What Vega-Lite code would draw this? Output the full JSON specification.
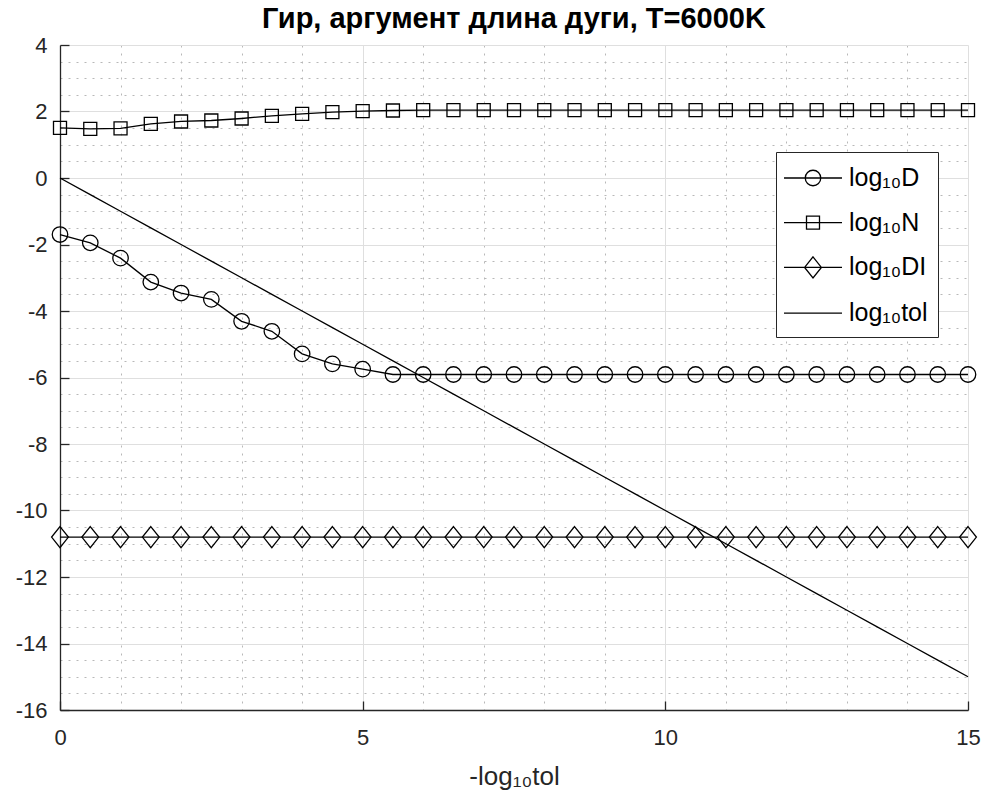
{
  "$schema": "https://vega.github.io/schema/vega-lite/v6.json",
  "width": 908,
  "height": 665,
  "autosize": {"type": "none"},
  "padding": {"left": 60, "top": 45, "right": 21, "bottom": 97},
  "background": "white",
  "title": {"text": "Гир, аргумент длина дуги, T=6000K", "fontSize": 29, "fontWeight": "bold", "font": "Liberation Sans", "color": "black", "anchor": "middle", "offset": 0},
  "config": {"view": {"stroke": null}, "font": "Liberation Sans"},
  "datasets": {
    "main": [
      {"x": 0, "series": "log₁₀D", "y": -1.70}, {"x": 0.5, "series": "log₁₀D", "y": -1.95}, {"x": 1, "series": "log₁₀D", "y": -2.41}, {"x": 1.5, "series": "log₁₀D", "y": -3.13}, {"x": 2, "series": "log₁₀D", "y": -3.46}, {"x": 2.5, "series": "log₁₀D", "y": -3.65}, {"x": 3, "series": "log₁₀D", "y": -4.31}, {"x": 3.5, "series": "log₁₀D", "y": -4.61}, {"x": 4, "series": "log₁₀D", "y": -5.29}, {"x": 4.5, "series": "log₁₀D", "y": -5.59}, {"x": 5, "series": "log₁₀D", "y": -5.75}, {"x": 5.5, "series": "log₁₀D", "y": -5.91}, {"x": 6, "series": "log₁₀D", "y": -5.91}, {"x": 6.5, "series": "log₁₀D", "y": -5.91}, {"x": 7, "series": "log₁₀D", "y": -5.91}, {"x": 7.5, "series": "log₁₀D", "y": -5.91}, {"x": 8, "series": "log₁₀D", "y": -5.91}, {"x": 8.5, "series": "log₁₀D", "y": -5.91}, {"x": 9, "series": "log₁₀D", "y": -5.91}, {"x": 9.5, "series": "log₁₀D", "y": -5.91}, {"x": 10, "series": "log₁₀D", "y": -5.91}, {"x": 10.5, "series": "log₁₀D", "y": -5.91}, {"x": 11, "series": "log₁₀D", "y": -5.91}, {"x": 11.5, "series": "log₁₀D", "y": -5.91}, {"x": 12, "series": "log₁₀D", "y": -5.91}, {"x": 12.5, "series": "log₁₀D", "y": -5.91}, {"x": 13, "series": "log₁₀D", "y": -5.91}, {"x": 13.5, "series": "log₁₀D", "y": -5.91}, {"x": 14, "series": "log₁₀D", "y": -5.91}, {"x": 14.5, "series": "log₁₀D", "y": -5.91}, {"x": 15, "series": "log₁₀D", "y": -5.91},
      {"x": 0, "series": "log₁₀N", "y": 1.51}, {"x": 0.5, "series": "log₁₀N", "y": 1.48}, {"x": 1, "series": "log₁₀N", "y": 1.49}, {"x": 1.5, "series": "log₁₀N", "y": 1.63}, {"x": 2, "series": "log₁₀N", "y": 1.70}, {"x": 2.5, "series": "log₁₀N", "y": 1.73}, {"x": 3, "series": "log₁₀N", "y": 1.79}, {"x": 3.5, "series": "log₁₀N", "y": 1.87}, {"x": 4, "series": "log₁₀N", "y": 1.93}, {"x": 4.5, "series": "log₁₀N", "y": 1.98}, {"x": 5, "series": "log₁₀N", "y": 2.01}, {"x": 5.5, "series": "log₁₀N", "y": 2.03}, {"x": 6, "series": "log₁₀N", "y": 2.04}, {"x": 6.5, "series": "log₁₀N", "y": 2.04}, {"x": 7, "series": "log₁₀N", "y": 2.04}, {"x": 7.5, "series": "log₁₀N", "y": 2.04}, {"x": 8, "series": "log₁₀N", "y": 2.04}, {"x": 8.5, "series": "log₁₀N", "y": 2.04}, {"x": 9, "series": "log₁₀N", "y": 2.04}, {"x": 9.5, "series": "log₁₀N", "y": 2.04}, {"x": 10, "series": "log₁₀N", "y": 2.04}, {"x": 10.5, "series": "log₁₀N", "y": 2.04}, {"x": 11, "series": "log₁₀N", "y": 2.04}, {"x": 11.5, "series": "log₁₀N", "y": 2.04}, {"x": 12, "series": "log₁₀N", "y": 2.04}, {"x": 12.5, "series": "log₁₀N", "y": 2.04}, {"x": 13, "series": "log₁₀N", "y": 2.04}, {"x": 13.5, "series": "log₁₀N", "y": 2.04}, {"x": 14, "series": "log₁₀N", "y": 2.04}, {"x": 14.5, "series": "log₁₀N", "y": 2.04}, {"x": 15, "series": "log₁₀N", "y": 2.04},
      {"x": 0, "series": "log₁₀DI", "y": -10.8}, {"x": 0.5, "series": "log₁₀DI", "y": -10.8}, {"x": 1, "series": "log₁₀DI", "y": -10.8}, {"x": 1.5, "series": "log₁₀DI", "y": -10.8}, {"x": 2, "series": "log₁₀DI", "y": -10.8}, {"x": 2.5, "series": "log₁₀DI", "y": -10.8}, {"x": 3, "series": "log₁₀DI", "y": -10.8}, {"x": 3.5, "series": "log₁₀DI", "y": -10.8}, {"x": 4, "series": "log₁₀DI", "y": -10.8}, {"x": 4.5, "series": "log₁₀DI", "y": -10.8}, {"x": 5, "series": "log₁₀DI", "y": -10.8}, {"x": 5.5, "series": "log₁₀DI", "y": -10.8}, {"x": 6, "series": "log₁₀DI", "y": -10.8}, {"x": 6.5, "series": "log₁₀DI", "y": -10.8}, {"x": 7, "series": "log₁₀DI", "y": -10.8}, {"x": 7.5, "series": "log₁₀DI", "y": -10.8}, {"x": 8, "series": "log₁₀DI", "y": -10.8}, {"x": 8.5, "series": "log₁₀DI", "y": -10.8}, {"x": 9, "series": "log₁₀DI", "y": -10.8}, {"x": 9.5, "series": "log₁₀DI", "y": -10.8}, {"x": 10, "series": "log₁₀DI", "y": -10.8}, {"x": 10.5, "series": "log₁₀DI", "y": -10.8}, {"x": 11, "series": "log₁₀DI", "y": -10.8}, {"x": 11.5, "series": "log₁₀DI", "y": -10.8}, {"x": 12, "series": "log₁₀DI", "y": -10.8}, {"x": 12.5, "series": "log₁₀DI", "y": -10.8}, {"x": 13, "series": "log₁₀DI", "y": -10.8}, {"x": 13.5, "series": "log₁₀DI", "y": -10.8}, {"x": 14, "series": "log₁₀DI", "y": -10.8}, {"x": 14.5, "series": "log₁₀DI", "y": -10.8}, {"x": 15, "series": "log₁₀DI", "y": -10.8},
      {"x": 0, "series": "log₁₀tol", "y": 0}, {"x": 0.5, "series": "log₁₀tol", "y": -0.5}, {"x": 1, "series": "log₁₀tol", "y": -1}, {"x": 1.5, "series": "log₁₀tol", "y": -1.5}, {"x": 2, "series": "log₁₀tol", "y": -2}, {"x": 2.5, "series": "log₁₀tol", "y": -2.5}, {"x": 3, "series": "log₁₀tol", "y": -3}, {"x": 3.5, "series": "log₁₀tol", "y": -3.5}, {"x": 4, "series": "log₁₀tol", "y": -4}, {"x": 4.5, "series": "log₁₀tol", "y": -4.5}, {"x": 5, "series": "log₁₀tol", "y": -5}, {"x": 5.5, "series": "log₁₀tol", "y": -5.5}, {"x": 6, "series": "log₁₀tol", "y": -6}, {"x": 6.5, "series": "log₁₀tol", "y": -6.5}, {"x": 7, "series": "log₁₀tol", "y": -7}, {"x": 7.5, "series": "log₁₀tol", "y": -7.5}, {"x": 8, "series": "log₁₀tol", "y": -8}, {"x": 8.5, "series": "log₁₀tol", "y": -8.5}, {"x": 9, "series": "log₁₀tol", "y": -9}, {"x": 9.5, "series": "log₁₀tol", "y": -9.5}, {"x": 10, "series": "log₁₀tol", "y": -10}, {"x": 10.5, "series": "log₁₀tol", "y": -10.5}, {"x": 11, "series": "log₁₀tol", "y": -11}, {"x": 11.5, "series": "log₁₀tol", "y": -11.5}, {"x": 12, "series": "log₁₀tol", "y": -12}, {"x": 12.5, "series": "log₁₀tol", "y": -12.5}, {"x": 13, "series": "log₁₀tol", "y": -13}, {"x": 13.5, "series": "log₁₀tol", "y": -13.5}, {"x": 14, "series": "log₁₀tol", "y": -14}, {"x": 14.5, "series": "log₁₀tol", "y": -14.5}, {"x": 15, "series": "log₁₀tol", "y": -15}
    ]
  },
  "data": {"name": "main"},
  "resolve": {"axis": {"x": "independent", "y": "independent"}},
  "layer": [
    {
      "mark": {"type": "line", "strokeWidth": 1.3},
      "encoding": {
        "x": {"field": "x", "type": "quantitative", "scale": {"domain": [0, 15], "nice": false, "zero": false},
          "axis": {"orient": "bottom", "values": [0, 5, 10, 15], "grid": true, "gridColor": "#dfdfdf", "gridWidth": 1,
            "domainColor": "#262626", "domainWidth": 1.3, "tickColor": "#262626", "tickSize": -9, "tickWidth": 1.3,
            "labelFontSize": 22, "labelColor": "#262626", "labelPadding": 26, "labelFlush": false, "labelOverlap": false, "labelBound": false,
            "title": "-log₁₀tol", "titleFontSize": 26, "titleFontWeight": "normal", "titleColor": "#262626", "titlePadding": 15}},
        "y": {"field": "y", "type": "quantitative", "scale": {"domain": [-16, 4], "nice": false, "zero": false},
          "axis": {"orient": "left", "values": [-16, -14, -12, -10, -8, -6, -4, -2, 0, 2, 4], "grid": true, "gridColor": "#dfdfdf", "gridWidth": 1,
            "domainColor": "#262626", "domainWidth": 1.3, "tickColor": "#262626", "tickSize": -9, "tickWidth": 1.3,
            "labelFontSize": 22, "labelColor": "#262626", "labelPadding": 22, "labelFlush": false, "labelOverlap": false, "labelBound": false,
            "labelExpr": "'' + datum.value", "title": null}},
        "color": {"field": "series", "type": "nominal",
          "scale": {"domain": ["log₁₀D", "log₁₀N", "log₁₀DI", "log₁₀tol"], "range": ["black", "black", "black", "black"]},
          "legend": {"orient": "none", "legendX": 716, "legendY": 107, "title": null,
            "strokeColor": "#262626", "fillColor": "white", "padding": 10,
            "labelFontSize": 25, "labelColor": "black", "labelFont": "Liberation Sans", "labelLimit": 0, "labelOffset": 20,
            "symbolType": "circle", "symbolSize": 900, "symbolStrokeWidth": 1.3, "symbolFillColor": "transparent", "symbolStrokeColor": "black",
            "symbolOffset": 11, "rowPadding": 15.7,
            "encode": {"symbols": {"update": {"fill": {"value": "transparent"}, "stroke": {"value": "black"}, "shape": {"signal": "datum.index === 0 ? 'M-1.933,0H1.933M-0.517,0A0.517,0.517,0,1,0,0.517,0A0.517,0.517,0,1,0,-0.517,0' : datum.index === 1 ? 'M-1.933,0H1.933M-0.433,-0.433H0.433V0.433H-0.433Z' : datum.index === 2 ? 'M-1.933,0H1.933M0,-0.7L0.56,0L0,0.7L-0.56,0Z' : 'M-1.933,0H1.933'"}}}}}}
      }
    },
    {
      "transform": [{"filter": "datum.series === 'log₁₀D'"}],
      "mark": {"type": "point", "shape": "circle", "size": 240, "filled": false, "stroke": "black", "strokeWidth": 1.3, "opacity": 1},
      "encoding": {
        "x": {"field": "x", "type": "quantitative",
          "axis": {"orient": "bottom", "values": [1, 2, 3, 4, 6, 7, 8, 9, 11, 12, 13, 14], "grid": true, "gridColor": "#b8b8b8", "gridDash": [2, 6], "gridWidth": 1,
            "domain": false, "ticks": false, "labels": false, "title": null}},
        "y": {"field": "y", "type": "quantitative",
          "axis": {"orient": "left", "values": [-15.5, -15, -14.5, -13.5, -13, -12.5, -11.5, -11, -10.5, -9.5, -9, -8.5, -7.5, -7, -6.5, -5.5, -5, -4.5, -3.5, -3, -2.5, -1.5, -1, -0.5, 0.5, 1, 1.5, 2.5, 3, 3.5], "grid": true, "gridColor": "#b8b8b8", "gridDash": [2, 6], "gridWidth": 1,
            "domain": false, "ticks": false, "labels": false, "title": null}}
      }
    },
    {
      "transform": [{"filter": "datum.series === 'log₁₀N'"}],
      "mark": {"type": "point", "shape": "square", "size": 169, "filled": false, "stroke": "black", "strokeWidth": 1.3, "opacity": 1},
      "encoding": {
        "x": {"field": "x", "type": "quantitative", "axis": null},
        "y": {"field": "y", "type": "quantitative", "axis": null}
      }
    },
    {
      "transform": [{"filter": "datum.series === 'log₁₀DI'"}],
      "mark": {"type": "point", "shape": "M0,-1L0.8,0L0,1L-0.8,0Z", "size": 441, "filled": false, "stroke": "black", "strokeWidth": 1.3, "opacity": 1},
      "encoding": {
        "x": {"field": "x", "type": "quantitative", "axis": null},
        "y": {"field": "y", "type": "quantitative", "axis": null}
      }
    }
  ]
}
